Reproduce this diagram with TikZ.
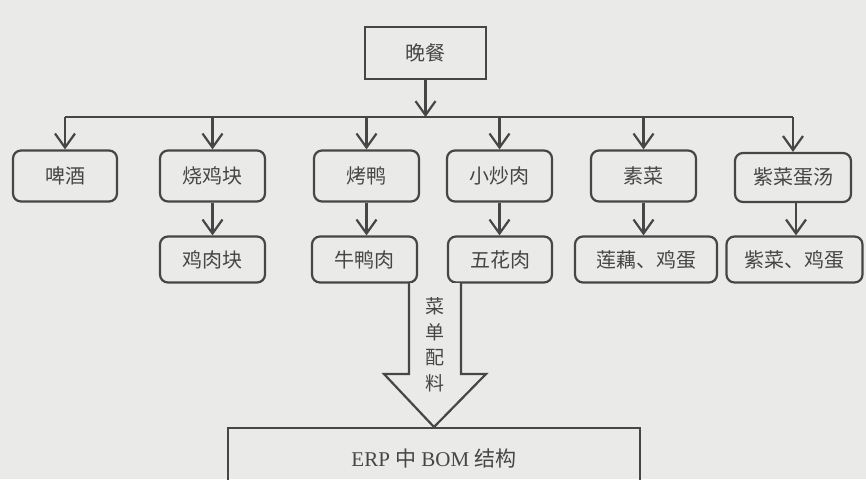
\documentclass[tikz,border=0pt]{standalone}
\usepackage{fontspec}
\setmainfont{Liberation Serif}
\newfontfamily\cjk{Noto Sans CJK SC}
\usetikzlibrary{arrows.meta}
\definecolor{paper}{RGB}{234,234,232}
\definecolor{ink}{RGB}{70,70,70}
\begin{document}
\begin{tikzpicture}[x=1pt,y=-1pt,
  box/.style={draw=ink,line width=2.2pt,text=ink,inner sep=0pt,font=\cjk\fontsize{20}{24}\selectfont},
  dish/.style={box,rounded corners=8pt,minimum width=105pt,minimum height=51pt},
  part/.style={dish,minimum height=46pt},
  link/.style={draw=ink,line width=2.2pt,-{Straight Barb[length=14pt,width=20pt,line width=2.2pt]}}]
%\draw[step=50,gray,very thin] (0,0) grid (866,479);
\fill[paper] (0,0) rectangle (866,479);
\useasboundingbox (0,0) rectangle (866,479);
% top
\node[box,minimum width=121pt,minimum height=52pt] (dinner) at (425.5,53) {晚餐};
% dishes
\node[dish,minimum width=104pt] (beer) at (65,176) {啤酒};
\node[dish] (chicken) at (212.5,176) {烧鸡块};
\node[dish] (duck) at (366.5,176) {烤鸭};
\node[dish] (stirfry) at (499.5,176) {小炒肉};
\node[dish] (veg) at (643.5,176) {素菜};
\node[dish,minimum width=116pt,minimum height=49pt] (soup) at (793,177.5) {紫菜蛋汤};
% ingredients
\node[part] (nugget) at (212.5,259.5) {鸡肉块};
\node[part] (duckmeat) at (364.5,259.5) {牛鸭肉};
\node[part,minimum width=104pt] (pork) at (500,259.5) {五花肉};
\node[part,minimum width=142pt] (lotus) at (646,259.5) {莲藕、鸡蛋};
\node[part,minimum width=136pt] (seaweed) at (794.5,259.5) {紫菜、鸡蛋};
% bus
\coordinate (bus) at (0,117);
\draw[link] (dinner.south) -- (dinner.south |- bus);
\draw[draw=ink,line width=2.2pt] (beer.north |- bus) -- (soup.north |- bus);
\foreach \n in {beer,chicken,duck,stirfry,veg,soup}
  \draw[link] (\n.north |- bus) -- (\n.north);
\draw[link] (chicken.south) -- (chicken.south |- nugget.north);
\draw[link] (duck.south) -- (duck.south |- duckmeat.north);
\draw[link] (stirfry.south) -- (stirfry.south |- pork.north);
\draw[link] (veg.south) -- (veg.south |- lotus.north);
\draw[link] ([xshift=3pt]soup.south) -- ([xshift=3pt]soup.south |- seaweed.north);
% bottom
\node[box,font=\fontsize{21}{24}\selectfont,minimum width=412pt,minimum height=60pt,anchor=north] (erp) at (434,427) {ERP {\cjk 中} BOM {\cjk 结构}};
\draw[draw=ink,line width=2.2pt,fill=paper,line join=miter] (409,283) -- (409,374) -- (384,374) -- (erp.north) -- (486,374) -- (461,374) -- (461,283);
\node[text=ink,font=\cjk\fontsize{19}{25.5}\selectfont,align=center] (menu) at (435,345) {菜\\单\\配\\料};
\end{tikzpicture}
\end{document}
